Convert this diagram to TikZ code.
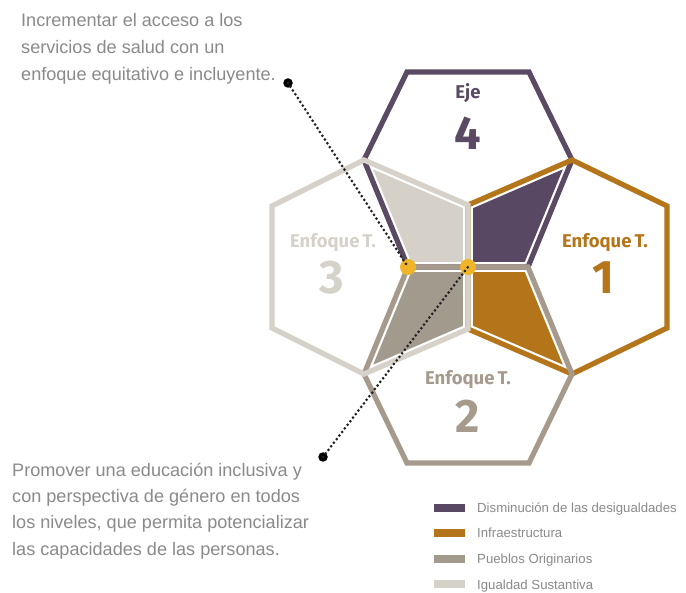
\documentclass[tikz,border=0pt]{standalone}
\usepackage{fontspec}
\setmainfont{Liberation Sans}
\newfontfamily\labfont{Fira Sans}
\definecolor{cpurple}{HTML}{5B4A63}
\definecolor{cochre}{HTML}{B5761B}
\definecolor{ctaupe}{HTML}{A59A8C}
\definecolor{clight}{HTML}{D6D2C9}
\definecolor{kpurple}{HTML}{594863}
\definecolor{kochre}{HTML}{B3741A}
\definecolor{ktaupe}{HTML}{A39A8E}
\definecolor{klight}{HTML}{D5D1C8}
\definecolor{cyellow}{HTML}{F0B429}
\definecolor{ctext}{HTML}{8A8A8A}
\definecolor{cdot}{HTML}{222222}
\begin{document}
\begin{tikzpicture}[x=1pt,y=-1pt,
  hexline/.style={line width=5.2pt, line join=miter},
  kitefill/.style={fill=#1, draw=white, line width=9.6pt, line join=round},
  ydot/.style={circle, fill=cyellow, minimum size=16pt, inner sep=0pt},
  bdot/.style={circle, fill=black, minimum size=9.5pt, inner sep=0pt},
  dotline/.style={draw=cdot, line width=3pt, line cap=round, dash pattern=on 0pt off 4.5pt},
  bodytxt/.style={anchor=base west, inner sep=0pt, text=ctext, font=\fontsize{18.1}{20}\selectfont},
  legtxt/.style={anchor=base west, inner sep=0pt, text=ctext, font=\fontsize{13.2}{15}\selectfont},
  swatch/.style={minimum width=31pt, minimum height=8pt, inner sep=0pt, fill=#1},
  lab/.style={anchor=base, inner sep=0pt, text=#1, font=\labfont\bfseries\fontsize{18.5}{20}\selectfont},
  num/.style={anchor=base, inner sep=0pt, text=#1, font=\labfont\bfseries\fontsize{47}{50}\selectfont}
]
\useasboundingbox[fill=white] (0,0) rectangle (686,593);

\begin{scope}[shift={(468,267)}, yscale=-1]
  \coordinate (C) at (0,0);
  \coordinate (L0) at (-60,0);
  \coordinate (R0) at (60,0);
  \coordinate (T0) at (0,62);
  \coordinate (B0) at (0,-62);
  \coordinate (NE) at (104,107);
  \coordinate (NW) at (-104,107);
  \coordinate (SE) at (104,-107);
  \coordinate (SW) at (-104,-107);
  % overlap regions
  \path[kitefill=kpurple] (C) -- (T0) -- (NE) -- (R0) -- cycle;
  \path[kitefill=kochre] (C) -- (B0) -- (SE) -- (R0) -- cycle;
  \path[kitefill=ktaupe] (C) -- (B0) -- (SW) -- (L0) -- cycle;
  \path[kitefill=klight] (C) -- (T0) -- (NW) -- (L0) -- cycle;
  % hexagons
  \draw[hexline, cpurple] (L0) -- (NW) -- (-61,195) -- (61,195) -- (NE) -- (R0) -- cycle;
  \draw[hexline, cochre] (T0) -- (NE) -- (199,61) -- (199,-61) -- (SE) -- (B0) -- cycle;
  \draw[hexline, ctaupe] (L0) -- (SW) -- (-61,-196) -- (61,-196) -- (SE) -- (R0) -- cycle;
  \draw[hexline, clight] (T0) -- (NW) -- (-196,61) -- (-196,-61) -- (SW) -- (B0) -- cycle;
\end{scope}

% yellow dots and leader lines
\node[ydot] (y1) at (408,267) {};
\node[ydot] (y2) at (468,267) {};
\node[bdot] (b1) at (288,83) {};
\node[bdot] (b2) at (323,457) {};
\draw[dotline] (b1.center) -- (y1.center);
\draw[dotline] (b2.center) -- (y2.center);

% hexagon labels
\node[lab=cpurple] (eje) at (468,99) {Eje};
\node[num=cpurple] (n4) at (468,150) {4};
\node[lab=cochre] (e1) at (605,248) {Enfoque\,T.};
\node[num=cochre] (n1) at (603,294) {1};
\node[lab=clight] (e3) at (333,248) {Enfoque\,T.};
\node[num=clight] (n3) at (332,294) {3};
\node[lab=ctaupe] (e2) at (468,385) {Enfoque\,T.};
\node[num=ctaupe] (n2) at (468,433) {2};

% descriptive texts
\node[bodytxt] (t1) at (21,27) {Incrementar el acceso a los};
\node[bodytxt] (t2) at (21,54) {servicios de salud con un};
\node[bodytxt] (t3) at (21,81) {enfoque equitativo e incluyente.};
\node[bodytxt] (p1) at (12,477) {Promover una educación inclusiva y};
\node[bodytxt] (p2) at (12,503) {con perspectiva de género en todos};
\node[bodytxt] (p3) at (12,529) {los niveles, que permita potencializar};
\node[bodytxt] (p4) at (12,555) {las capacidades de las personas.};

% legend
\node[swatch=kpurple] (s1) at (449,508) {};
\node[swatch=kochre] (s2) at (449,533) {};
\node[swatch=ktaupe] (s3) at (449,559) {};
\node[swatch=klight] (s4) at (449,584) {};
\node[legtxt] (l1) at (477,513) {Disminución de las desigualdades};
\node[legtxt] (l2) at (477,538) {Infraestructura};
\node[legtxt] (l3) at (477,564) {Pueblos Originarios};
\node[legtxt] (l4) at (477,589) {Igualdad Sustantiva};
\end{tikzpicture}
\end{document}
